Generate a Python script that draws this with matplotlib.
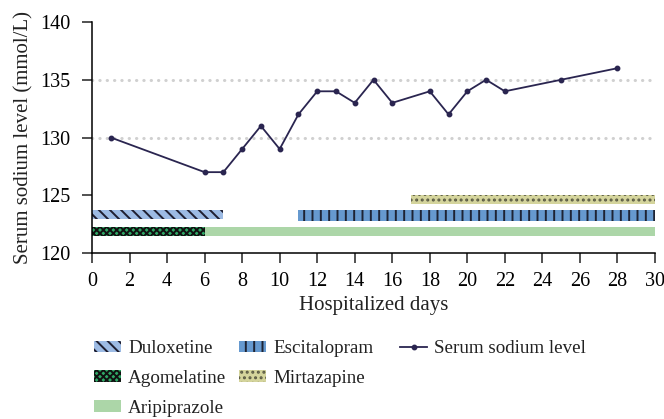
import matplotlib
matplotlib.use("Agg")
import matplotlib.pyplot as plt
from matplotlib.patches import Patch
from matplotlib.lines import Line2D

plt.rcParams['font.family'] = ['Liberation Serif', 'DejaVu Serif']
plt.rcParams['hatch.linewidth'] = 1.4

days = [1, 6, 7, 8, 9, 10, 11, 12, 13, 14, 15, 16, 18, 19, 20, 21, 22, 25, 28]
sodium = [130, 127, 127, 129, 131, 129, 132, 134, 134, 133, 135, 133, 134, 132, 134, 135, 134, 135, 136]

drugs = ["Duloxetine", "Escitalopram", "Mirtazapine", "Aripiprazole", "Agomelatine"]
drug_start = [0, 11, 17, 0, 0]
drug_end = [7, 30, 30, 30, 6]
drug_level = [123.33, 123.25, 124.66, 121.89, 121.89]
drug_color = ["#9dbbe4", "#6699cf", "#d4d49c", "#acd6a8", "#2fa866"]
drug_hatch = ["\\\\\\", "||", "...", None, "xxxxx"]
drug_edge = ["#1e1e30", "#1e2434", "#5a5a44", "#acd6a8", "#111111"]
drug_height = [0.78, 0.95, 0.78, 0.78, 0.78]

ref_lines = [130, 135]

W, H = 664, 419
fig = plt.figure(figsize=(W / 100, H / 100), dpi=100)
ax = fig.add_axes([92 / W, 1 - 253 / H, (655 - 92) / W, (253 - 22) / H])

for r in ref_lines:
    ax.axhline(r, color="#d0d0d0", lw=2.2, ls=(0, (0.1, 2.3)), dash_capstyle='round', zorder=1)

for name, s, e, lvl, c, h, ec, hh in zip(drugs, drug_start, drug_end, drug_level, drug_color,
                                         drug_hatch, drug_edge, drug_height):
    ax.barh(lvl, e - s, left=s, height=hh, color=c, hatch=h, edgecolor=ec, linewidth=0, zorder=2)

ax.plot(days, sodium, color="#2a2550", lw=1.3, marker='o', ms=3.2, zorder=3)

ax.set_xlim(0, 30)
ax.set_ylim(120, 140)
ax.set_xticks(range(0, 31, 2))
ax.set_yticks(range(120, 141, 5))
ax.spines['top'].set_visible(False)
ax.spines['right'].set_visible(False)
ax.tick_params(labelsize=14.5, length=7.5, width=1.1, direction='out', color="#222222")
ax.tick_params(axis='x', pad=6)
ax.tick_params(axis='y', pad=8)
ax.spines['left'].set_linewidth(1.1)
ax.spines['bottom'].set_linewidth(1.1)
ax.set_xlabel("Hospitalized days", fontsize=15, labelpad=4, color="#222222")
ax.set_ylabel("Serum sodium level (mmol/L)", fontsize=15, labelpad=5, color="#222222")


def ph(i):
    return Patch(facecolor=drug_color[i], hatch=drug_hatch[i], edgecolor=drug_edge[i], linewidth=0)


serum = Line2D([], [], color="#2a2550", lw=1.3, marker='o', ms=3.2)
cols = [
    ([ph(0), ph(4), ph(3)], ["Duloxetine", "Agomelatine", "Aripiprazole"], 94),
    ([ph(1), ph(2)], ["Escitalopram", "Mirtazapine"], 239),
    ([serum], ["Serum sodium level"], 400),
]
for hs, ls, x0 in cols:
    leg = fig.legend(hs, ls, loc='upper left', bbox_to_anchor=(x0 / W, 1 - 340 / H), frameon=False,
                     fontsize=13.7, handlelength=1.42, handleheight=0.55, handletextpad=0.37,
                     labelspacing=0.68, borderaxespad=0, borderpad=0)
    for t in leg.get_texts():
        t.set_color("#222222")

fig.savefig("out.png", dpi=100)
